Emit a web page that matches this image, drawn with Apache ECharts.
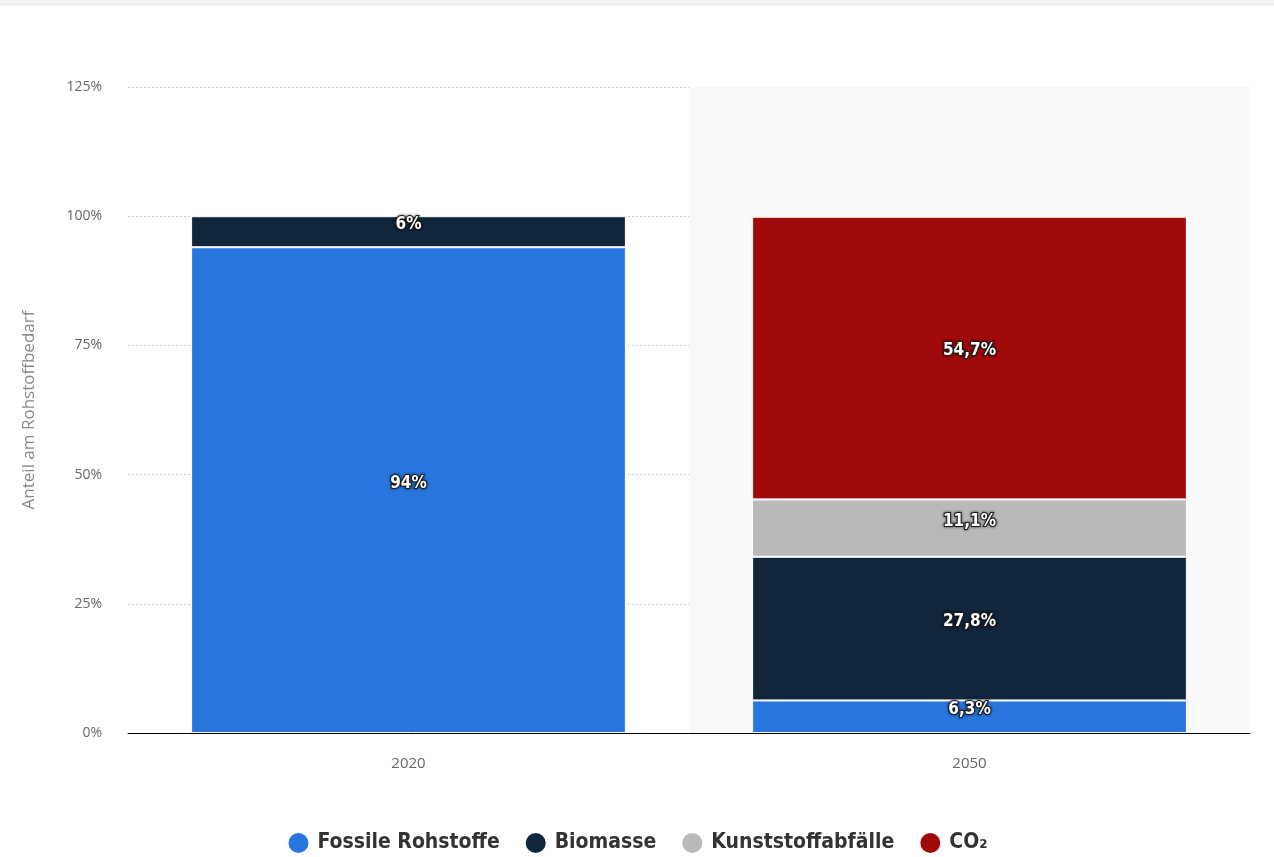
<!DOCTYPE html>
<html>
<head>
<meta charset="utf-8">
<style>
  html, body { margin: 0; padding: 0; background: #fff; }
  #topbar { position: absolute; left: 0; top: 0; width: 1274px; height: 6px; background: #f2f2f2; }
  #chart { width: 1274px; height: 857px; }
</style>
<script src="https://cdn.jsdelivr.net/npm/echarts@6/dist/echarts.min.js"></script>
</head>
<body>
<div id="topbar"></div>
<div id="chart"></div>
<script>
const years = ['2020', '2050'];
const fossil = [94, 6.3];
const biomass = [6, 27.8];
const plasticWaste = [null, 11.1];
const co2 = [null, 54.7];
const highlight = [null, 125];

const fmt = p => String(p.value).replace('.', ',') + '%';

const labelStyle = {
  show: true,
  position: 'inside',
  offset: [0, -7],
  formatter: fmt,
  color: '#fff',
  fontSize: 17,
  fontWeight: 'bold',
  fontFamily: 'DejaVu Sans Condensed, Arial, sans-serif',
  textBorderColor: '#222',
  textBorderWidth: 2,
  textShadowColor: 'rgba(0,0,0,0.6)',
  textShadowBlur: 3
};

function stackSeries(name, data, color) {
  return {
    name: name,
    type: 'bar',
    stack: 'total',
    data: data,
    barWidth: '77.5%',
    xAxisIndex: 0,
    itemStyle: { color: color, borderColor: '#fff', borderWidth: 1 },
    label: labelStyle,
    z: 3
  };
}

const chart = echarts.init(document.getElementById('chart'));
chart.setOption({
  animation: false,
  grid: { left: 128, right: 24, top: 87, bottom: 124 },
  legend: {
    top: 826,
    left: 'center',
    icon: 'circle',
    itemWidth: 22,
    itemHeight: 22,
    itemGap: 24,
    data: ['Fossile Rohstoffe', 'Biomasse', 'Kunststoffabfälle', 'CO₂'],
    textStyle: {
      color: '#333',
      fontSize: 21,
      fontWeight: 'bold',
      fontFamily: 'DejaVu Sans Condensed, Arial, sans-serif',
      padding: [0, 0, 0, 3]
    }
  },
  xAxis: [
    {
      type: 'category',
      data: years,
      axisLine: { lineStyle: { color: '#000', width: 1 } },
      axisTick: { show: false },
      axisLabel: { color: '#666', fontSize: 15, margin: 23, fontFamily: 'Open Sans, sans-serif' }
    },
    {
      type: 'category',
      data: years,
      show: false
    }
  ],
  yAxis: {
    type: 'value',
    min: 0,
    max: 125,
    interval: 25,
    name: 'Anteil am Rohstoffbedarf',
    nameLocation: 'middle',
    nameGap: 90,
    nameTextStyle: { color: '#888', fontSize: 17, fontFamily: 'Open Sans, sans-serif' },
    axisLine: { show: false },
    axisTick: { show: false },
    axisLabel: { color: '#666', fontSize: 14, margin: 26, formatter: '{value}%', fontFamily: 'Open Sans, sans-serif' },
    splitLine: { lineStyle: { color: '#ccc', type: [2, 2] } }
  },
  series: [
    {
      name: 'hover',
      type: 'bar',
      data: highlight,
      xAxisIndex: 1,
      barWidth: '100%',
      silent: true,
      itemStyle: { color: '#f9f9f9' },
      z: 1
    },
    stackSeries('Fossile Rohstoffe', fossil, '#2876dd'),
    stackSeries('Biomasse', biomass, '#12263b'),
    stackSeries('Kunststoffabfälle', plasticWaste, '#b9b9b9'),
    stackSeries('CO₂', co2, '#a10a0a')
  ]
});
</script>
</body>
</html>
